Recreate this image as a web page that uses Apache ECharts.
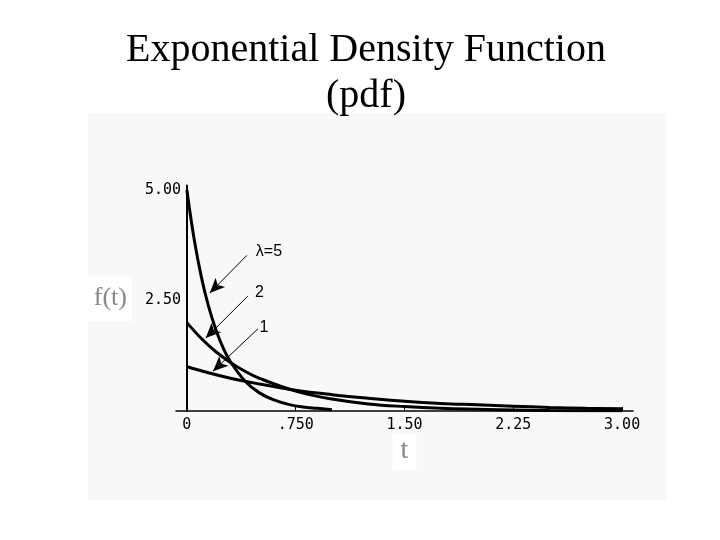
<!DOCTYPE html>
<html><head><meta charset="utf-8">
<script src="https://cdn.jsdelivr.net/npm/echarts@6/dist/echarts.min.js"></script>
<style>html,body{margin:0;padding:0;background:#fff}#c{width:720px;height:540px}</style>
</head><body><div id="c"></div>
<script>
// Values
var tLambda5 = [0, 0.05, 0.1, 0.15, 0.2, 0.25, 0.3, 0.4, 0.5, 0.6, 0.7, 0.8, 0.9, 1.0];
var fLambda5 = [5.00, 3.89, 3.03, 2.36, 1.84, 1.43, 1.12, 0.68, 0.41, 0.25, 0.15, 0.09, 0.06, 0.03];
var tLambda2 = [0, 0.1, 0.2, 0.3, 0.4, 0.5, 0.75, 1.0, 1.25, 1.5, 1.75, 2.0, 2.5, 3.0];
var fLambda2 = [2.00, 1.64, 1.34, 1.10, 0.90, 0.74, 0.45, 0.27, 0.16, 0.10, 0.06, 0.04, 0.01, 0.005];
var tLambda1 = [0, 0.25, 0.5, 0.75, 1.0, 1.25, 1.5, 1.75, 2.0, 2.25, 2.5, 2.75, 3.0];
var fLambda1 = [1.00, 0.78, 0.61, 0.47, 0.37, 0.29, 0.22, 0.17, 0.14, 0.11, 0.08, 0.06, 0.05];
var xTicks = [0, 0.75, 1.5, 2.25, 3.0];
var xTickLabels = ['0', '.750', '1.50', '2.25', '3.00'];
var yTicks = [2.5, 5.0];
var yTickLabels = ['2.50', '5.00'];
// annotation labels and arrows [labelT, labelY, tailT, tailY, headT, headY]
var annoText = ['\u03bb=5', '2', '1'];
var annoPos = [[0.475, 3.6, 0.413, 3.52, 0.158, 2.67],
               [0.47, 2.69, 0.42, 2.60, 0.13, 1.65],
               [0.50, 1.88, 0.49, 1.86, 0.18, 0.90]];

function pairs(t, v){ return t.map(function(x,i){return [x, v[i]];}); }

var chart = echarts.init(document.getElementById('c'));
var lineStyle = {color:'#000', width:3};
var option = {
  backgroundColor:'#fff',
  animation:false,
  graphic:[{type:'rect', z:-10, shape:{x:88,y:113,width:578,height:387}, style:{fill:'#f8f8f8'}}],
  title:{text:'Exponential Density Function\n(pdf)', left:361, top:22, textAlign:'center',
    textStyle:{fontFamily:'Liberation Serif', fontSize:40, fontWeight:'normal', color:'#000', lineHeight:46}},
  grid:{left:176, top:185.6, width:457, height:225.4},
  xAxis:{type:'value', min:-0.075, max:3.075,
    name:'t', nameLocation:'middle', nameGap:20,
    nameTextStyle:{fontFamily:'Liberation Serif', fontSize:28, color:'#888', backgroundColor:'#fff', padding:[3,8,5,8]},
    axisLine:{show:true, onZero:true, lineStyle:{color:'#000', width:1.5}},
    axisTick:{show:true, inside:true, length:4, customValues:xTicks, lineStyle:{color:'#000'}},
    splitLine:{show:false},
    axisLabel:{customValues:xTicks, margin:7, fontFamily:'DejaVu Sans Mono', fontSize:15, color:'#000',
      formatter:function(v){ var i = xTicks.indexOf(v); return i>=0 ? xTickLabels[i] : ''; }}
  },
  yAxis:{type:'value', min:0, max:5.1,
    name:'f(t)', nameLocation:'middle', nameGap:44, nameRotate:0,
    nameTextStyle:{fontFamily:'Liberation Serif', fontSize:26, color:'#888', backgroundColor:'#fff', padding:[14,5,6,8]},
    axisLine:{show:true, onZero:true, lineStyle:{color:'#000', width:2}},
    axisTick:{show:false},
    splitLine:{show:false},
    axisLabel:{customValues:yTicks, margin:-5, fontFamily:'DejaVu Sans Mono', fontSize:15, color:'#000',
      formatter:function(v){ var i = yTicks.indexOf(v); return i>=0 ? yTickLabels[i] : ''; }}
  },
  series:[
    {type:'line', name:'lambda5', data:pairs(tLambda5,fLambda5), smooth:0.4, showSymbol:false, lineStyle:lineStyle,
      markLine:{silent:true, animation:false, symbol:['none','arrow'], symbolSize:14,
        lineStyle:{color:'#000', width:1, type:'solid'}, label:{show:false},
        data:annoPos.map(function(p){ return [
          {coord:[p[2],p[3]], symbol:'none'},
          {coord:[p[4],p[5]], symbol:'arrow', symbolSize:[10,15]}]; })},
      markPoint:{silent:true, symbol:'circle', symbolSize:0,
        label:{show:true, position:'right', distance:0, fontFamily:'Liberation Sans', fontSize:16, color:'#000',
          formatter:function(p){ return p.name; }},
        data:annoPos.map(function(p,i){ return {name:annoText[i], coord:[p[0],p[1]]}; })}
    },
    {type:'line', name:'lambda2', data:pairs(tLambda2,fLambda2), smooth:0.4, showSymbol:false, lineStyle:lineStyle},
    {type:'line', name:'lambda1', data:pairs(tLambda1,fLambda1), smooth:0.4, showSymbol:false, lineStyle:lineStyle}
  ]
};
chart.setOption(option);
</script></body></html>
